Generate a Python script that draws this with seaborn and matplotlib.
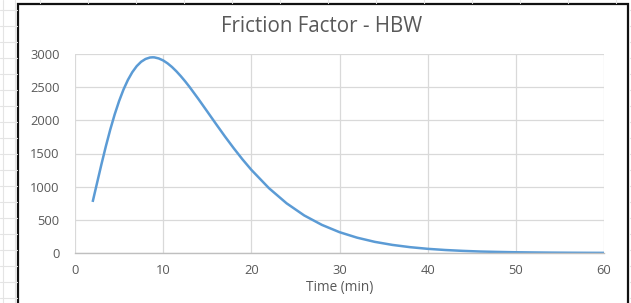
import matplotlib
matplotlib.use("Agg")
import matplotlib.pyplot as plt
import seaborn as sns
import pandas as pd
from matplotlib.lines import Line2D
from matplotlib.patches import Rectangle

# Data
time_min = [2, 2.5, 3, 3.5, 4, 4.5, 5, 5.5, 6, 6.5, 7, 7.5, 8, 8.5, 8.8, 9, 9.5, 10,
            10.5, 11, 11.5, 12, 12.5, 13, 14, 15, 16, 17, 18, 19, 20,
            22, 24, 26, 28, 30, 32, 34, 36, 38, 40, 42, 44, 46, 48, 50, 52, 54, 56, 58, 60]
friction = [770, 1055, 1338, 1609, 1861, 2089, 2290, 2464, 2609, 2726, 2817, 2883, 2925,
            2947, 2950, 2949, 2933, 2903, 2859, 2804, 2739, 2666, 2587, 2502, 2321,
            2133, 1944, 1758, 1580, 1411, 1254, 977, 749, 566, 424, 314, 231, 168, 122,
            88, 63, 45, 32, 22, 16, 11, 8, 5.5, 3.8, 2.6, 1.8]
x_ticks = [0, 10, 20, 30, 40, 50, 60]
y_ticks = [0, 500, 1000, 1500, 2000, 2500, 3000]
title = "Friction Factor - HBW"
x_label = "Time (min)"

df = pd.DataFrame({"Time": time_min, "Friction": friction})

sns.set_style("white")
plt.rcParams["font.family"] = ["Open Sans", "DejaVu Sans"]

W, H = 631, 303
fig = plt.figure(figsize=(W / 100, H / 100), dpi=100)

# spreadsheet grid behind the chart
grid_c = "#E4E4E4"
for yy in range(10, H, 16):
    fig.add_artist(Line2D([0, 17 / W], [1 - yy / H, 1 - yy / H], color=grid_c, lw=0.8,
                          transform=fig.transFigure))
    fig.add_artist(Line2D([629 / W, 1], [1 - yy / H, 1 - yy / H], color=grid_c, lw=0.8,
                          transform=fig.transFigure))
for xx in [3, 15]:
    fig.add_artist(Line2D([xx / W, xx / W], [0, 1], color=grid_c, lw=0.8,
                          transform=fig.transFigure))
for xx in range(40, 630, 48):
    fig.add_artist(Line2D([xx / W, xx / W], [1 - 3 / H, 1], color=grid_c, lw=0.8,
                          transform=fig.transFigure))

# chart frame
fig.add_artist(Rectangle((18 / W, -0.05), (628 - 18) / W, 1.05 - 4 / H,
                         transform=fig.transFigure, facecolor="white",
                         edgecolor="#111111", lw=1.6, zorder=0))

ax = fig.add_axes([75 / W, 1 - 253 / H, (604 - 75) / W, (253 - 54) / H])
ax.set_facecolor("white")
sns.lineplot(data=df, x="Time", y="Friction", ax=ax, color="#5B9BD5", linewidth=1.8,
             solid_joinstyle="round", solid_capstyle="butt")

ax.set_xlim(0, 60)
ax.set_ylim(0, 3000)
ax.set_xticks(x_ticks)
ax.set_yticks(y_ticks)
ax.grid(True, color="#D9D9D9", lw=0.9)
ax.set_axisbelow(True)
for s in ["top", "right", "left"]:
    ax.spines[s].set_visible(False)
ax.spines["bottom"].set_color("#BFBFBF")
ax.spines["bottom"].set_linewidth(1.0)
ax.tick_params(axis="both", length=0, labelsize=9.3, labelcolor="#595959")
ax.tick_params(axis="y", pad=11)
ax.tick_params(axis="x", pad=8)
ax.set_xlabel(x_label, fontsize=9.8, color="#595959", labelpad=2)
ax.set_ylabel("")

fig.text(322 / W, 1 - 27 / H, title, ha="center", va="center", fontsize=14.8,
         color="#595959")

fig.savefig("out.png", dpi=100, facecolor="white")
